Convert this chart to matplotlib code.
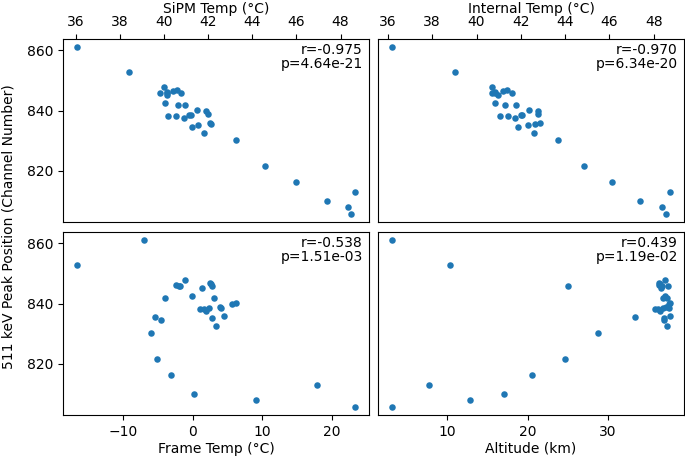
import matplotlib
matplotlib.use("Agg")
import matplotlib.pyplot as plt

# Peak position (channel number), shared by all panels
peak = [861.0, 852.7, 847.9, 847.0, 846.6, 846.2, 845.7, 845.7, 845.2, 845.8,
        842.6, 841.9, 841.8, 840.2, 840.0, 838.9, 838.6, 838.5, 838.2, 838.2,
        837.7, 836.0, 835.4, 835.3, 834.7, 832.7, 830.4, 821.6, 816.3, 813.0,
        810.0, 807.9, 805.8]

sipm_temp = [36.06, 38.40, 39.99, 40.59, 40.41, 40.15, 39.81, 40.77, 40.15, 40.15,
             40.03, 40.64, 40.94, 41.51, 41.92, 42.00, 41.15, 41.24, 40.55, 40.20,
             40.89, 42.09, 42.13, 41.54, 41.27, 41.82, 43.28, 44.60, 46.00, 48.66,
             47.37, 48.34, 48.46]

internal_temp = [36.18, 39.05, 40.72, 41.37, 41.20, 40.83, 40.72, 41.58, 40.99, 40.83,
                 40.83, 41.28, 41.78, 42.37, 42.76, 42.79, 42.02, 42.05, 41.43, 41.07,
                 41.75, 42.88, 42.64, 42.33, 41.87, 42.59, 43.66, 44.85, 46.12, 48.74,
                 47.39, 48.37, 48.56]

frame_temp = [-6.98, -16.71, -1.16, 2.41, 2.60, -2.36, -1.83, 2.74, 1.35, -2.02,
              -0.05, -4.04, 3.08, 6.21, 5.63, 3.90, 4.00, 2.36, 1.11, 1.59,
              1.97, 4.57, -5.49, 2.79, -4.53, 3.37, -6.02, -5.15, -3.18, 17.96,
              0.19, 9.05, 23.40]

altitude = [3.13, 10.29, 37.04, 36.33, 36.50, 36.33, 25.07, 37.41, 36.58, 36.70,
            37.08, 36.79, 37.33, 37.66, 37.62, 37.20, 37.54, 36.79, 35.88, 36.21,
            36.46, 37.70, 33.35, 36.91, 36.96, 37.33, 28.80, 24.70, 20.60, 7.76,
            17.12, 12.86, 3.13]

stats = ["r=-0.975\np=4.64e-21", "r=-0.970\np=6.34e-20",
         "r=-0.538\np=1.51e-03", "r=0.439\np=1.19e-02"]
xlabels = ["SiPM Temp (°C)", "Internal Temp (°C)", "Frame Temp (°C)", "Altitude (km)"]
xdata = [sipm_temp, internal_temp, frame_temp, altitude]

W, H = 685, 457
fig = plt.figure(figsize=(W / 100, H / 100), dpi=100)
plt.rcParams['font.size'] = 10

aw, ah = 306 / W, 183 / H
rects = [
    [63 / W, (H - 222) / H, aw, ah],
    [378 / W, (H - 222) / H, aw, ah],
    [63 / W, (H - 415) / H, aw, ah],
    [378 / W, (H - 415) / H, aw, ah],
]

axes = []
for i, r in enumerate(rects):
    ax = fig.add_axes(r, sharey=axes[0] if axes else None)
    axes.append(ax)
    ax.scatter(xdata[i], peak, s=22, color='#1f77b4', linewidths=0)
    ax.text(0.98, 0.98, stats[i], transform=ax.transAxes, ha='right', va='top',
            fontsize=10, linespacing=1.05)
    ax.set_xlabel(xlabels[i], fontsize=10, labelpad=2)
    if i < 2:
        ax.xaxis.tick_top()
        ax.xaxis.set_label_position('top')
        ax.set_xticks([36, 38, 40, 42, 44, 46, 48])
    if i % 2 == 1:
        ax.tick_params(axis='y', left=False, labelleft=False)

axes[0].set_yticks([820, 840, 860])
axes[2].set_xticks([-10, 0, 10, 20])
axes[3].set_xticks([10, 20, 30])

fig.text(0.012, 1 - 227 / H, "511 keV Peak Position (Channel Number)",
         rotation=90, ha='center', va='center', fontsize=10)

fig.savefig("out.png", dpi=100)
